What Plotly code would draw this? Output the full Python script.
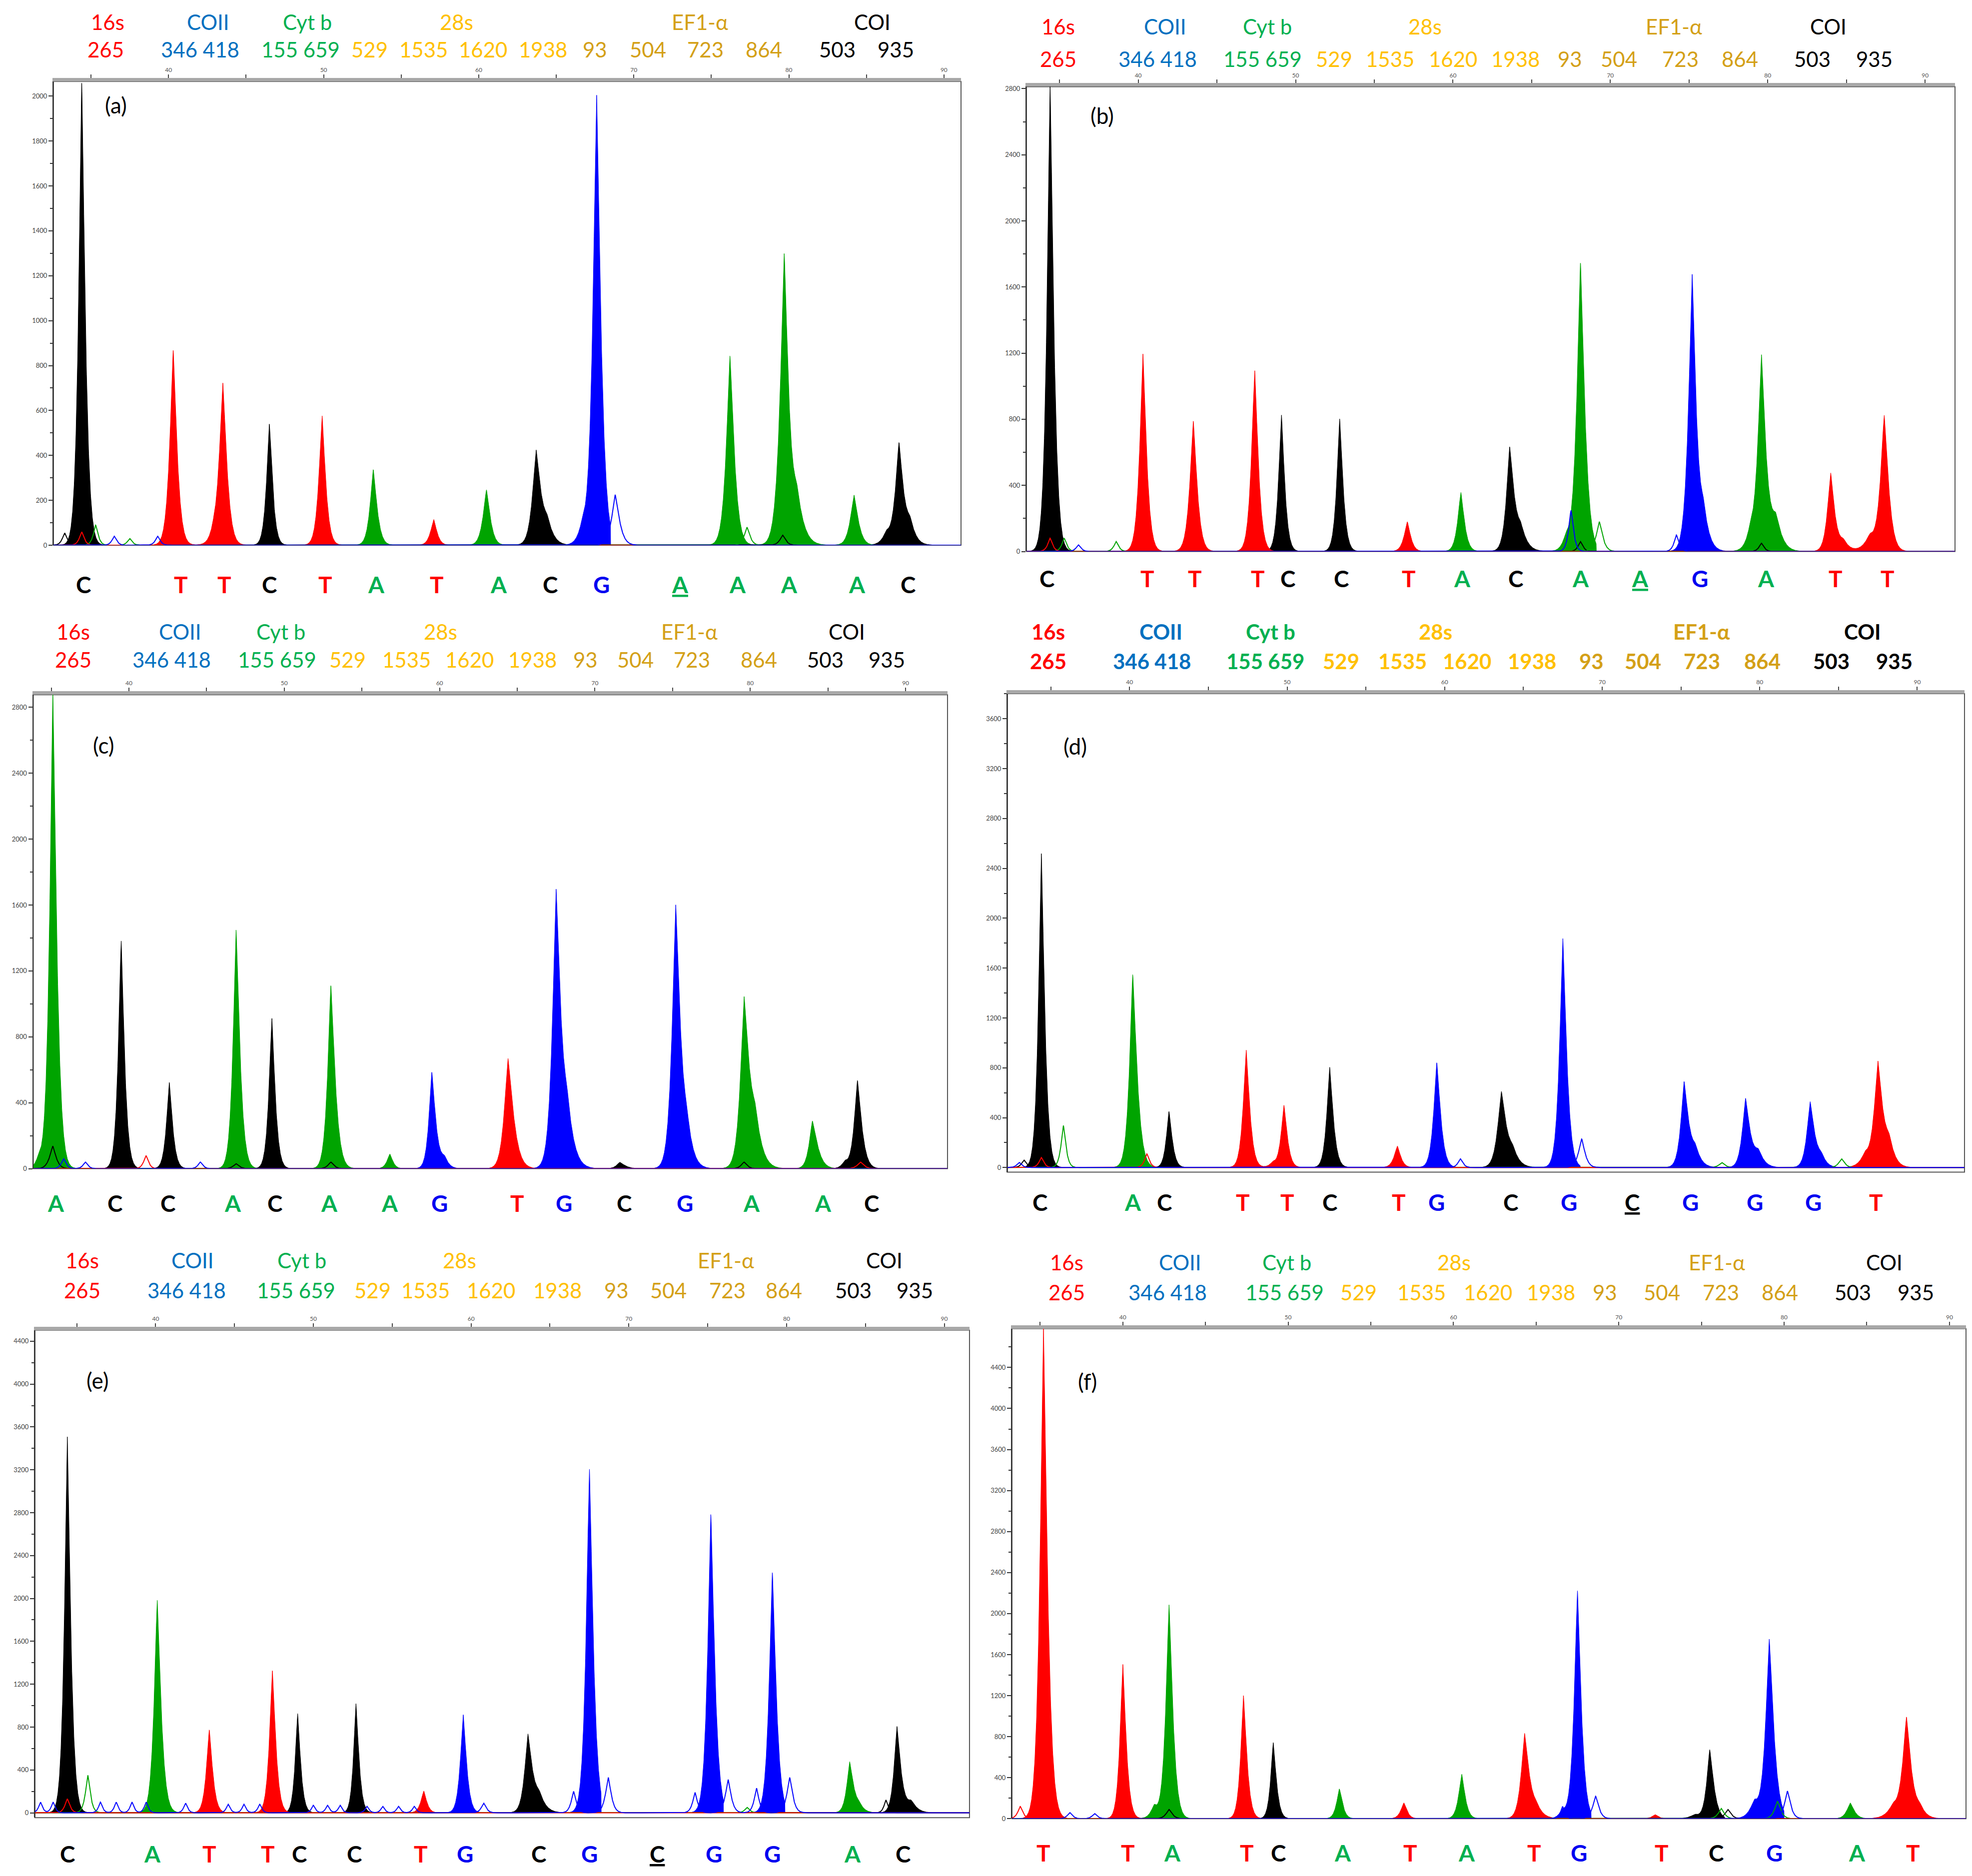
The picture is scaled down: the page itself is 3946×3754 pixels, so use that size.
import numpy as np
import plotly.graph_objects as go

W, H = 3946, 3754
FONT = "Lato"

# header text, shared by all six panels
GENES = ["16s", "COII", "Cyt b", "28s", "EF1-α", "COI"]
GENE_COLORS = ["#FF0000", "#0070C0", "#00B050", "#FFC000", "#D4A017", "#000000"]
SITES = ["265", "346 418", "155 659", "529", "1535", "1620", "1938", "93", "504", "723", "864", "503", "935"]
SITE_COLORS = ["#FF0000", "#0070C0", "#00B050", "#FFC000", "#FFC000", "#FFC000", "#FFC000",
               "#D4A017", "#D4A017", "#D4A017", "#D4A017", "#000000", "#000000"]

TRACE_COLORS = {"A": "#00A400", "C": "#000000", "G": "#0000FF", "T": "#FF0000"}
CALL_COLORS = {"A": "#00B050", "C": "#000000", "G": "#0000F0", "T": "#FF0000"}

# peaks: base, position, height, left width, right width, cut (filled area stops there)
A_PEAKS = [
    ("C", 34.4, 2070, 0.28, 0.31, None), ("T", 40.3, 872, 0.31, 0.33, None),
    ("T", 42.9, 40, 0.4, 0.4, None), ("T", 43.5, 716, 0.33, 0.35, None),
    ("C", 46.5, 540, 0.26, 0.28, None), ("T", 49.9, 579, 0.29, 0.31, None),
    ("A", 53.2, 338, 0.29, 0.33, None), ("T", 57.1, 115, 0.29, 0.29, None),
    ("A", 60.5, 247, 0.31, 0.33, None), ("C", 63.7, 407, 0.33, 0.4, None),
    ("C", 64.4, 90, 0.5, 0.5, None), ("G", 66.7, 80, 0.4, 0.4, None),
    ("G", 67.6, 2008, 0.33, 0.37, 68.5), ("A", 76.2, 844, 0.33, 0.37, None),
    ("A", 79.7, 1261, 0.37, 0.37, None), ("A", 80.5, 200, 0.55, 0.55, None),
    ("A", 84.2, 224, 0.33, 0.37, None), ("C", 86.3, 50, 0.4, 0.4, None),
    ("C", 87.1, 439, 0.33, 0.37, None), ("C", 87.8, 90, 0.45, 0.45, None),
]
A_GHOSTS = [
    ("G", 68.8, 225, 0.33, 0.37), ("A", 77.3, 80, 0.26, 0.26), ("A", 35.3, 90, 0.22, 0.22),
    ("C", 33.3, 55, 0.22, 0.22), ("T", 34.4, 60, 0.22, 0.22), ("C", 79.6, 45, 0.26, 0.26),
    ("G", 36.5, 40, 0.22, 0.22), ("A", 37.5, 30, 0.22, 0.22), ("G", 39.3, 40, 0.22, 0.22),
]
A_CALLS = ["C", "T", "T", "C", "T", "A", "T", "A", "C", "G", "A", "A", "A", "A", "C"]
A_CALL_POS = [34.5, 40.8, 43.6, 46.5, 50.1, 53.4, 57.3, 61.3, 64.6, 67.9, 73.0, 76.7, 80.0, 84.4, 87.7]
A_UNDERLINED = [10]

B_PEAKS = [
    ("C", 34.4, 2830, 0.28, 0.31, None), ("T", 40.3, 1195, 0.29, 0.31, None),
    ("T", 43.5, 789, 0.31, 0.33, None), ("T", 47.4, 1099, 0.29, 0.31, None),
    ("C", 49.1, 829, 0.26, 0.28, None), ("C", 52.8, 803, 0.26, 0.29, None),
    ("T", 57.1, 180, 0.29, 0.29, None), ("A", 60.5, 359, 0.28, 0.31, None),
    ("C", 63.6, 609, 0.29, 0.37, None), ("C", 64.3, 120, 0.5, 0.5, None),
    ("A", 67.2, 80, 0.35, 0.35, None), ("A", 68.1, 1750, 0.33, 0.37, 69.1),
    ("G", 75.2, 1640, 0.33, 0.33, None), ("G", 75.9, 220, 0.45, 0.45, None),
    ("A", 78.9, 100, 0.4, 0.4, None), ("A", 79.6, 1157, 0.33, 0.37, None),
    ("A", 80.5, 190, 0.5, 0.5, None), ("T", 84.0, 469, 0.29, 0.33, None),
    ("T", 84.8, 60, 0.45, 0.45, None), ("T", 86.5, 90, 0.5, 0.5, None),
    ("T", 87.4, 815, 0.33, 0.37, None),
]
B_GHOSTS = [
    ("G", 67.5, 250, 0.22, 0.22), ("A", 69.3, 180, 0.29, 0.29), ("C", 68.1, 60, 0.22, 0.22),
    ("G", 74.2, 100, 0.22, 0.22), ("C", 79.6, 50, 0.22, 0.22), ("A", 35.3, 80, 0.22, 0.22),
    ("T", 34.4, 80, 0.22, 0.22), ("A", 38.6, 60, 0.22, 0.22), ("G", 36.2, 40, 0.22, 0.22),
]
B_CALLS = ["C", "T", "T", "T", "C", "C", "T", "A", "C", "A", "A", "G", "A", "T", "T"]
B_CALL_POS = [34.2, 40.6, 43.6, 47.6, 49.5, 52.9, 57.2, 60.6, 64.0, 68.1, 71.9, 75.7, 79.9, 84.3, 87.6]
B_UNDERLINED = [10]

C_PEAKS = [
    ("A", 34.2, 60, 0.3, 0.3, None), ("A", 35.1, 2900, 0.29, 0.33, None),
    ("C", 39.5, 1386, 0.26, 0.29, None), ("C", 42.6, 523, 0.26, 0.29, None),
    ("A", 46.9, 1451, 0.28, 0.33, None), ("C", 49.2, 917, 0.26, 0.29, None),
    ("A", 53.0, 1113, 0.29, 0.37, None), ("A", 56.8, 89, 0.26, 0.26, None),
    ("G", 59.5, 584, 0.26, 0.33, None), ("G", 60.3, 60, 0.35, 0.35, None),
    ("T", 64.4, 671, 0.33, 0.47, None), ("G", 67.5, 1622, 0.33, 0.4, None),
    ("G", 68.2, 300, 0.55, 0.55, None), ("C", 71.6, 39, 0.29, 0.44, None),
    ("G", 75.2, 1561, 0.33, 0.4, None), ("G", 75.9, 200, 0.5, 0.5, None),
    ("A", 79.6, 984, 0.33, 0.44, None), ("A", 80.3, 250, 0.55, 0.55, None),
    ("A", 84.0, 290, 0.29, 0.44, None), ("C", 86.1, 40, 0.3, 0.3, None),
    ("C", 86.9, 536, 0.29, 0.37, None),
]
C_GHOSTS = [
    ("C", 35.1, 137, 0.29, 0.29), ("T", 41.1, 80, 0.22, 0.22), ("G", 35.8, 60, 0.22, 0.22),
    ("C", 79.6, 40, 0.26, 0.26), ("C", 53.0, 40, 0.26, 0.26), ("T", 87.1, 40, 0.29, 0.29),
    ("C", 46.9, 30, 0.26, 0.26), ("G", 44.6, 40, 0.22, 0.22), ("G", 37.2, 40, 0.22, 0.22),
]
C_CALLS = ["A", "C", "C", "A", "C", "A", "A", "G", "T", "G", "C", "G", "A", "A", "C"]
C_CALL_POS = [35.3, 39.1, 42.5, 46.7, 49.4, 52.9, 56.8, 60.0, 65.0, 68.0, 71.9, 75.8, 80.1, 84.7, 87.8]
C_UNDERLINED = []

D_PEAKS = [
    ("C", 34.4, 2520, 0.26, 0.29, None), ("A", 40.2, 1550, 0.29, 0.37, None),
    ("C", 42.5, 452, 0.24, 0.28, None), ("T", 47.4, 945, 0.27, 0.31, None),
    ("T", 49.1, 40, 0.3, 0.3, None), ("T", 49.8, 498, 0.26, 0.29, None),
    ("C", 52.7, 806, 0.26, 0.31, None), ("T", 57.0, 173, 0.29, 0.29, None),
    ("G", 59.5, 844, 0.28, 0.33, None), ("C", 63.6, 586, 0.33, 0.4, None),
    ("C", 64.3, 120, 0.5, 0.5, None), ("G", 67.5, 1843, 0.29, 0.33, 68.6),
    ("G", 75.2, 670, 0.29, 0.37, None), ("G", 75.9, 130, 0.45, 0.45, None),
    ("G", 79.1, 542, 0.29, 0.37, None), ("G", 79.9, 120, 0.45, 0.45, None),
    ("G", 83.2, 520, 0.29, 0.37, None), ("G", 83.9, 80, 0.4, 0.4, None),
    ("T", 86.7, 100, 0.45, 0.45, None), ("T", 87.5, 816, 0.33, 0.4, None),
    ("T", 88.2, 180, 0.45, 0.45, None),
]
D_GHOSTS = [
    ("A", 35.8, 337, 0.22, 0.22), ("G", 61.0, 70, 0.22, 0.22), ("G", 68.7, 230, 0.29, 0.29),
    ("A", 85.2, 70, 0.26, 0.26), ("T", 34.4, 80, 0.22, 0.22), ("T", 41.1, 110, 0.22, 0.22),
    ("C", 33.3, 60, 0.22, 0.22), ("G", 33.0, 40, 0.22, 0.22), ("A", 77.6, 40, 0.26, 0.26),
]
D_CALLS = ["C", "A", "C", "T", "T", "C", "T", "G", "C", "G", "C", "G", "G", "G", "T"]
D_CALL_POS = [34.3, 40.2, 42.2, 47.2, 50.0, 52.7, 57.1, 59.5, 64.2, 67.9, 71.9, 75.6, 79.7, 83.4, 87.4]
D_UNDERLINED = [10]

E_PEAKS = [
    ("C", 34.4, 3509, 0.26, 0.29, None), ("A", 40.1, 1984, 0.28, 0.33, None),
    ("T", 43.4, 776, 0.26, 0.29, None), ("T", 47.4, 1328, 0.26, 0.29, None),
    ("C", 49.0, 928, 0.22, 0.26, None), ("C", 52.7, 1018, 0.22, 0.26, None),
    ("T", 57.0, 204, 0.26, 0.26, None), ("G", 59.5, 918, 0.26, 0.29, None),
    ("C", 63.6, 706, 0.29, 0.37, None), ("C", 64.3, 150, 0.5, 0.5, None),
    ("G", 67.5, 3216, 0.29, 0.33, 68.25), ("G", 75.2, 2792, 0.29, 0.33, 76.0),
    ("G", 79.1, 2250, 0.29, 0.33, 79.9), ("A", 84.0, 466, 0.26, 0.33, None),
    ("A", 84.6, 60, 0.4, 0.4, None), ("C", 87.0, 798, 0.26, 0.33, None),
    ("C", 87.9, 100, 0.45, 0.45, None),
]
E_GHOSTS = [
    ("G", 66.5, 200, 0.22, 0.22), ("G", 68.7, 330, 0.26, 0.26), ("G", 74.2, 190, 0.22, 0.22),
    ("G", 76.3, 310, 0.26, 0.26), ("G", 78.1, 230, 0.22, 0.22), ("G", 80.2, 330, 0.26, 0.26),
    ("G", 60.8, 90, 0.22, 0.22), ("G", 32.7, 100, 0.18, 0.18), ("G", 33.5, 100, 0.18, 0.18),
    ("G", 36.5, 100, 0.18, 0.18), ("G", 37.5, 100, 0.18, 0.18), ("G", 38.5, 100, 0.18, 0.18),
    ("G", 39.4, 100, 0.18, 0.18), ("G", 41.9, 90, 0.18, 0.18), ("G", 44.6, 80, 0.18, 0.18),
    ("G", 45.6, 80, 0.18, 0.18), ("G", 46.6, 80, 0.18, 0.18), ("G", 50.0, 70, 0.18, 0.18),
    ("G", 50.9, 70, 0.18, 0.18), ("G", 51.7, 70, 0.18, 0.18), ("G", 53.4, 60, 0.18, 0.18),
    ("G", 54.4, 60, 0.18, 0.18), ("G", 55.4, 60, 0.18, 0.18), ("G", 56.4, 60, 0.18, 0.18),
    ("A", 35.7, 352, 0.22, 0.22), ("T", 34.4, 130, 0.22, 0.22), ("A", 77.5, 50, 0.22, 0.22),
    ("C", 86.3, 120, 0.18, 0.18),
]
E_CALLS = ["C", "A", "T", "T", "C", "C", "T", "G", "C", "G", "C", "G", "G", "A", "C"]
E_CALL_POS = [34.4, 39.8, 43.4, 47.1, 49.1, 52.6, 56.8, 59.6, 64.3, 67.5, 71.8, 75.4, 79.1, 84.2, 87.4]
E_UNDERLINED = [10]

F_PEAKS = [
    ("T", 35.2, 4800, 0.29, 0.33, None), ("T", 40.0, 1515, 0.24, 0.28, None),
    ("A", 41.9, 120, 0.3, 0.3, None), ("A", 42.8, 2084, 0.28, 0.31, None),
    ("T", 47.3, 1201, 0.24, 0.28, None), ("C", 49.1, 743, 0.22, 0.26, None),
    ("A", 53.1, 292, 0.24, 0.26, None), ("T", 57.0, 155, 0.26, 0.26, None),
    ("A", 60.5, 436, 0.26, 0.28, None), ("T", 64.3, 812, 0.29, 0.37, None),
    ("T", 65.0, 100, 0.5, 0.5, None), ("G", 66.6, 80, 0.3, 0.3, None),
    ("G", 67.5, 2221, 0.28, 0.31, 68.33), ("T", 72.2, 40, 0.26, 0.26, None),
    ("C", 74.6, 40, 0.4, 0.4, None), ("C", 75.5, 671, 0.26, 0.33, 76.4),
    ("G", 78.2, 160, 0.4, 0.4, None), ("G", 79.1, 1742, 0.31, 0.37, 80.0),
    ("A", 84.0, 155, 0.29, 0.33, None), ("T", 86.6, 120, 0.5, 0.5, None),
    ("T", 87.4, 961, 0.33, 0.37, None), ("T", 88.2, 100, 0.45, 0.45, None),
]
F_GHOSTS = [
    ("G", 68.6, 220, 0.26, 0.26), ("G", 66.6, 120, 0.18, 0.18), ("C", 76.6, 90, 0.26, 0.26),
    ("G", 80.2, 270, 0.26, 0.26), ("A", 79.6, 170, 0.26, 0.26), ("A", 76.2, 100, 0.26, 0.26),
    ("C", 42.8, 90, 0.26, 0.26), ("T", 33.8, 120, 0.22, 0.22), ("G", 36.8, 60, 0.22, 0.22),
    ("G", 38.3, 50, 0.22, 0.22),
]
F_CALLS = ["T", "T", "A", "T", "C", "A", "T", "A", "T", "G", "T", "C", "G", "A", "T"]
F_CALL_POS = [35.2, 40.3, 43.0, 47.5, 49.4, 53.3, 57.4, 60.8, 64.9, 67.6, 72.6, 75.9, 79.4, 84.4, 87.8]
F_UNDERLINED = []

# layout of each panel, in pixels of the full picture
PANELS = [
    dict(tag="(a)", peaks=A_PEAKS, ghosts=A_GHOSTS, calls=A_CALLS, call_pos=A_CALL_POS, under=A_UNDERLINED,
         box=(99, 1915, 151.6, 1082.5), xr=(32.58, 91.1), yr=(0, 2065), dtick=200, bold=False,
         head_y=(32, 87), gene_x=[207, 408, 607, 905, 1392, 1737],
         site_x=[203, 392, 593, 731, 839, 958, 1078, 1182, 1288, 1403, 1520, 1667, 1784],
         label=(224, 199), call_y=1161),
    dict(tag="(b)", peaks=B_PEAKS, ghosts=B_GHOSTS, calls=B_CALLS, call_pos=B_CALL_POS, under=B_UNDERLINED,
         box=(2046, 3904, 162, 1095), xr=(32.9, 91.9), yr=(0, 2812), dtick=400, bold=False,
         head_y=(41, 106), gene_x=[2109, 2323, 2528, 2843, 3341, 3650],
         site_x=[2109, 2308, 2518, 2661, 2773, 2899, 3024, 3133, 3231, 3354, 3473, 3618, 3742],
         label=(2197, 220), call_y=1149),
    dict(tag="(c)", peaks=C_PEAKS, ghosts=C_GHOSTS, calls=C_CALLS, call_pos=C_CALL_POS, under=C_UNDERLINED,
         box=(58.5, 1888, 1382.6, 2334), xr=(33.84, 92.7), yr=(0, 2876), dtick=400, bold=False,
         head_y=(1256, 1312), gene_x=[138, 352, 554, 873, 1371, 1686],
         site_x=[138, 335, 546, 687, 805, 931, 1057, 1163, 1263, 1376, 1510, 1643, 1766],
         label=(199, 1484), call_y=2403),
    dict(tag="(d)", peaks=D_PEAKS, ghosts=D_GHOSTS, calls=D_CALLS, call_pos=D_CALL_POS, under=D_UNDERLINED,
         box=(2008, 3923, 1380.4, 2341), xr=(32.25, 93.0), yr=(-37, 3802), dtick=400, bold=True,
         head_y=(1256, 1315), gene_x=[2089, 2315, 2534, 2864, 3397, 3719],
         site_x=[2089, 2297, 2524, 2675, 2798, 2927, 3057, 3176, 3279, 3397, 3518, 3656, 3782],
         label=(2143, 1486), call_y=2401),
    dict(tag="(e)", peaks=E_PEAKS, ghosts=E_GHOSTS, calls=E_CALLS, call_pos=E_CALL_POS, under=E_UNDERLINED,
         box=(62, 1932, 2658.3, 3636.8), xr=(32.35, 91.6), yr=(-45, 4503), dtick=400, bold=False,
         head_y=(2518, 2578), gene_x=[156, 377, 596, 911, 1444, 1761],
         site_x=[156, 365, 584, 737, 843, 974, 1107, 1225, 1329, 1447, 1560, 1699, 1822],
         label=(187, 2759), call_y=3709),
    dict(tag="(f)", peaks=F_PEAKS, ghosts=F_GHOSTS, calls=F_CALLS, call_pos=F_CALL_POS, under=F_UNDERLINED,
         box=(2017, 3926, 2655.3, 3639), xr=(33.3, 91.0), yr=(0, 4778), dtick=400, bold=False,
         head_y=(2522, 2582), gene_x=[2126, 2353, 2567, 2901, 3427, 3762],
         site_x=[2126, 2328, 2562, 2710, 2836, 2969, 3095, 3203, 3317, 3435, 3553, 3699, 3825],
         label=(2168, 2761), call_y=3707),
]


def peak_curve(x, pos, height, wl, wr, cut=None):
    # pointed chromatogram peak with flared foot
    dx = x - pos
    w = np.where(dx < 0, wl, wr)
    y = height * np.exp(-np.abs(dx / w) ** 1.3)
    if cut is not None:
        y[x > cut] = 0
    return y


def px(x):
    return x / W


def py(y):
    return 1 - y / H


fig = go.Figure()
annotations = []
shapes = []
layout_axes = {}

for n, panel in enumerate(PANELS, start=1):
    xname = "x" if n == 1 else f"x{n}"
    yname = "y" if n == 1 else f"y{n}"
    grid = np.linspace(panel["xr"][0], panel["xr"][1], 5000)

    for base in ["C", "T", "A", "G"]:
        total = np.zeros_like(grid)
        for b, pos, h, wl, wr, cut in panel["peaks"]:
            if b == base:
                total += peak_curve(grid, pos, h, wl, wr, cut)
        fig.add_trace(go.Scatter(x=grid, y=total, xaxis=xname, yaxis=yname, mode="lines",
                                 fill="tozeroy", fillcolor=TRACE_COLORS[base],
                                 line=dict(color=TRACE_COLORS[base], width=1),
                                 hoverinfo="skip", showlegend=False))
    for base in ["C", "A", "T", "G"]:
        total = np.zeros_like(grid)
        for b, pos, h, wl, wr in panel["ghosts"]:
            if b == base:
                total += peak_curve(grid, pos, h, wl, wr)
        fig.add_trace(go.Scatter(x=grid, y=total, xaxis=xname, yaxis=yname, mode="lines",
                                 line=dict(color=TRACE_COLORS[base], width=2),
                                 hoverinfo="skip", showlegend=False))

    left, right, top, bottom = panel["box"]
    dt = panel["dtick"]
    layout_axes["xaxis" if n == 1 else f"xaxis{n}"] = dict(
        domain=[px(left), px(right)], range=list(panel["xr"]), anchor=yname, side="top",
        tickvals=[40, 50, 60, 70, 80, 90], ticks="outside", ticklen=7, tickwidth=2, tickcolor="#444",
        minor=dict(tickvals=[35, 45, 55, 65, 75, 85], ticks="outside", ticklen=7, tickwidth=2, tickcolor="#444"),
        showline=True, linewidth=7, linecolor="#A8A8A8", showgrid=False, zeroline=False,
        tickfont=dict(family=FONT, size=12, color="#555"),
    )
    layout_axes["yaxis" if n == 1 else f"yaxis{n}"] = dict(
        domain=[py(bottom), py(top)], range=list(panel["yr"]), anchor=xname,
        tick0=0, dtick=dt, ticks="outside", ticklen=8, tickwidth=2, tickcolor="#333",
        minor=dict(dtick=dt / 2, ticks="outside", ticklen=5, tickwidth=2, tickcolor="#333"),
        showline=True, linewidth=2, linecolor="#333", showgrid=False, zeroline=False,
        tickfont=dict(family=FONT, size=13, color="#444"),
    )
    shapes.append(dict(type="rect", xref=f"{xname} domain", yref=f"{yname} domain",
                       x0=0, x1=1, y0=0, y1=1, line=dict(color="#555", width=2), layer="below"))

    wrap = (lambda s: f"<b>{s}</b>") if panel["bold"] else (lambda s: s)
    gy, sy = panel["head_y"]
    for text, color, x in zip(GENES, GENE_COLORS, panel["gene_x"]):
        annotations.append(dict(text=wrap(text), x=px(x), y=py(gy), xref="paper", yref="paper",
                                showarrow=False, xanchor="center", yanchor="middle",
                                font=dict(family=FONT, size=42, color=color)))
    for text, color, x in zip(SITES, SITE_COLORS, panel["site_x"]):
        annotations.append(dict(text=wrap(text), x=px(x), y=py(sy), xref="paper", yref="paper",
                                showarrow=False, xanchor="center", yanchor="middle",
                                font=dict(family=FONT, size=42, color=color)))

    lx, ly = panel["label"]
    annotations.append(dict(text=panel["tag"], x=px(lx), y=py(ly), xref="paper", yref="paper",
                            showarrow=False, xanchor="center", yanchor="middle",
                            font=dict(family=FONT, size=44, color="#000")))

    for i, (call, pos) in enumerate(zip(panel["calls"], panel["call_pos"])):
        text = f"<b>{call}</b>"
        if i in panel["under"]:
            text = f"<u>{text}</u>"
        annotations.append(dict(text=text, x=pos, y=py(panel["call_y"]), xref=xname, yref="paper",
                                showarrow=False, xanchor="center", yanchor="middle",
                                font=dict(family=FONT, size=46, color=CALL_COLORS[call])))

fig.update_layout(
    width=W, height=H, margin=dict(l=0, r=0, t=0, b=0),
    paper_bgcolor="white", plot_bgcolor="white",
    annotations=annotations, shapes=shapes, showlegend=False,
    **layout_axes,
)

fig.write_html("out.html")
